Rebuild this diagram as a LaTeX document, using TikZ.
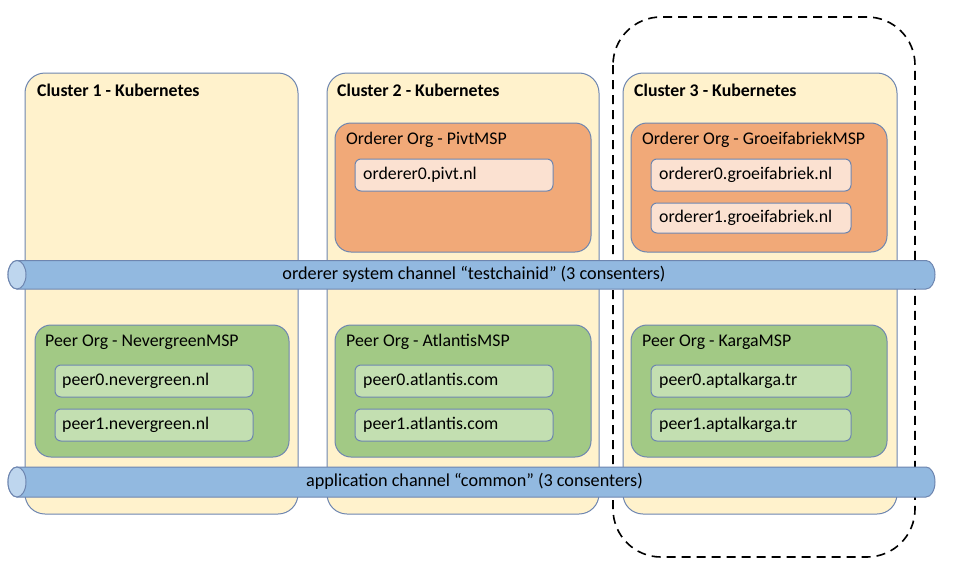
\documentclass[tikz,border=0pt]{standalone}
\usepackage{fontspec}
\setmainfont{Carlito}
\definecolor{clfill}{HTML}{FFF2CC}
\definecolor{bord}{HTML}{6E86B0}
\definecolor{ordfill}{HTML}{F1A978}
\definecolor{ordin}{HTML}{FBE1D1}
\definecolor{peerfill}{HTML}{A2C985}
\definecolor{peerin}{HTML}{C3DFB1}
\definecolor{chanfill}{HTML}{92B9E0}
\definecolor{chanend}{HTML}{BED6EE}
\tikzset{
  cluster/.style={draw=bord, line width=1pt, fill=clfill, rounded corners=20pt},
  ordorg/.style={draw=bord, line width=1pt, fill=ordfill, rounded corners=16pt},
  peerorg/.style={draw=bord, line width=1pt, fill=peerfill, rounded corners=16pt},
  ordbox/.style={draw=bord, line width=1pt, fill=ordin, rounded corners=6pt},
  peerbox/.style={draw=bord, line width=1pt, fill=peerin, rounded corners=6pt},
  lbl/.style={anchor=west, inner sep=0pt, font=\fontsize{17.8}{20}\selectfont},
  clbl/.style={anchor=west, inner sep=0pt, font=\fontsize{17.8}{20}\selectfont\bfseries},
  chlbl/.style={inner sep=0pt, font=\fontsize{18.2}{20}\selectfont},
  chan/.style={fill=chanfill},
  chanline/.style={draw=bord, line width=1pt},
}
\begin{document}
\begin{tikzpicture}[x=1pt,y=-1pt]
\useasboundingbox[fill=white] (0,0) rectangle (958,570);
% dashed group
\draw[black, line width=1.6pt, dash pattern=on 9pt off 6pt, rounded corners=48pt] (613,17) rectangle (915,557);
% clusters
\draw[cluster] (25,73) rectangle (298,514);
\draw[cluster] (327,73) rectangle (599,514);
\draw[cluster] (623,73) rectangle (897,514);
\node[clbl] (c1) at (37,90) {Cluster 1 - Kubernetes};
\node[clbl] (c2) at (337,90) {Cluster 2 - Kubernetes};
\node[clbl] (c3) at (634,90) {Cluster 3 - Kubernetes};
% orderer orgs
\draw[ordorg] (335,123) rectangle (591,252);
\node[lbl] (o2) at (346,139.5) {Orderer Org - PivtMSP};
\draw[ordbox] (355,159) rectangle (553,191);
\node[lbl] (o2a) at (363,175) {orderer0.pivt.nl};
\draw[ordorg] (631,123) rectangle (887,252);
\node[lbl] (o3) at (642,139.5) {Orderer Org - GroeifabriekMSP};
\draw[ordbox] (651,159) rectangle (851,191);
\node[lbl] (o3a) at (659,175) {orderer0.groeifabriek.nl};
\draw[ordbox] (651,203) rectangle (851,233);
\node[lbl] (o3b) at (659,218) {orderer1.groeifabriek.nl};
% peer orgs
\draw[peerorg] (35,325) rectangle (289,457);
\node[lbl] (p1) at (45,342) {Peer Org - NevergreenMSP};
\draw[peerbox] (55,365) rectangle (253,397);
\node[lbl] (p1a) at (62,381) {peer0.nevergreen.nl};
\draw[peerbox] (55,409) rectangle (253,441);
\node[lbl] (p1b) at (62,425) {peer1.nevergreen.nl};
\draw[peerorg] (335,325) rectangle (591,457);
\node[lbl] (p2) at (346,342) {Peer Org - AtlantisMSP};
\draw[peerbox] (355,365) rectangle (553,397);
\node[lbl] (p2a) at (363,381) {peer0.atlantis.com};
\draw[peerbox] (355,409) rectangle (553,441);
\node[lbl] (p2b) at (363,425) {peer1.atlantis.com};
\draw[peerorg] (631,325) rectangle (887,457);
\node[lbl] (p3) at (642,342) {Peer Org - KargaMSP};
\draw[peerbox] (651,365) rectangle (851,397);
\node[lbl] (p3a) at (659,381) {peer0.aptalkarga.tr};
\draw[peerbox] (651,409) rectangle (851,441);
\node[lbl] (p3b) at (659,425) {peer1.aptalkarga.tr};
% orderer system channel
\path[chan, chanline] (17,260.5) -- (926,260.5) arc[start angle=-90, end angle=90, x radius=9, y radius=14.25] -- (17,289) arc[start angle=90, end angle=270, x radius=9, y radius=14.25] -- cycle;
\path[fill=chanend, chanline] (17,274.75) ellipse[x radius=9, y radius=14.25];
\node[chlbl] (ch1) at (474,274.5) {orderer system channel “testchainid” (3 consenters)};
% application channel
\path[chan, chanline] (17,467) -- (926,467) arc[start angle=-90, end angle=90, x radius=9, y radius=15] -- (17,497) arc[start angle=90, end angle=270, x radius=9, y radius=15] -- cycle;
\path[fill=chanend, chanline] (17,482) ellipse[x radius=9, y radius=15];
\node[chlbl] (ch2) at (474.5,481.5) {application channel “common” (3 consenters)};
\end{tikzpicture}
\end{document}
